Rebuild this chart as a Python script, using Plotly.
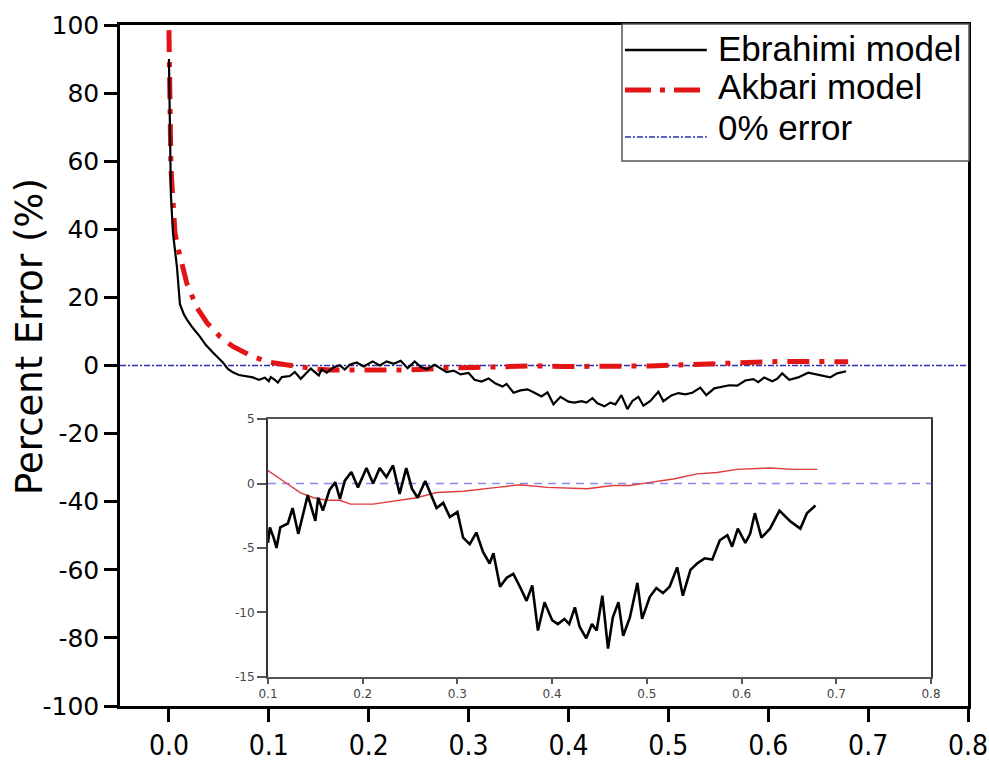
import plotly.graph_objects as go

# ---- data -------------------------------------------------------------
# Ebrahimi model: percent error vs. x
ebrahimi_x = [0.000, 0.001, 0.002, 0.004, 0.008, 0.011, 0.015, 0.018, 0.024, 0.031,
              0.037, 0.044, 0.050, 0.054, 0.059, 0.064, 0.070, 0.077, 0.084, 0.090,
              0.096, 0.100, 0.102, 0.106, 0.109, 0.113, 0.121, 0.126, 0.132, 0.142,
              0.150, 0.153, 0.158, 0.165, 0.171, 0.176, 0.181, 0.188, 0.195, 0.204,
              0.211, 0.218, 0.225, 0.232, 0.239, 0.246, 0.252, 0.258, 0.266, 0.271,
              0.278, 0.285, 0.292, 0.300, 0.306, 0.313, 0.320, 0.327, 0.334, 0.338,
              0.345, 0.352, 0.359, 0.366, 0.373, 0.379, 0.385, 0.392, 0.400, 0.406,
              0.413, 0.418, 0.424, 0.429, 0.436, 0.442, 0.447, 0.453, 0.459, 0.464,
              0.470, 0.475, 0.482, 0.490, 0.495, 0.503, 0.510, 0.517, 0.524, 0.532,
              0.538, 0.546, 0.553, 0.561, 0.569, 0.577, 0.585, 0.590, 0.596, 0.604,
              0.609, 0.614, 0.621, 0.630, 0.640, 0.651, 0.662, 0.669, 0.678]
ebrahimi_y = [90.0, 70.0, 50.0, 39.0, 29.0, 18.0, 15.0, 13.5, 11.0, 8.5,
              6.0, 3.8, 2.0, 0.9, -1.0, -2.0, -2.8, -3.2, -3.5, -4.2,
              -3.6, -4.6, -3.4, -4.2, -5.0, -3.4, -3.1, -1.9, -3.9, -0.9,
              -2.9, -1.1, -2.1, -0.5, 0.1, -1.2, 0.2, 0.9, -0.3, 1.2,
              0.0, 1.2, 0.5, 1.4, -0.8, 1.2, -0.4, -1.1, 0.2, -0.7,
              -1.9, -1.5, -2.6, -2.2, -4.2, -4.7, -3.8, -5.3, -6.2, -5.4,
              -8.0, -7.3, -7.0, -8.0, -9.1, -7.9, -11.4, -9.2, -10.6, -10.9,
              -10.5, -10.9, -9.6, -11.1, -12.0, -10.9, -11.4, -8.7, -12.8, -10.4,
              -9.2, -11.8, -10.4, -7.7, -10.5, -8.8, -8.1, -8.5, -8.0, -6.5,
              -8.7, -6.7, -6.2, -5.8, -5.9, -4.4, -4.0, -4.9, -3.5, -4.6,
              -3.9, -2.3, -4.2, -3.5, -2.1, -2.9, -3.5, -2.3, -1.7]

# Akbari model: percent error vs. x
akbari_x = [0.000, 0.001, 0.002, 0.006, 0.009, 0.018, 0.028, 0.038, 0.051, 0.064,
            0.084, 0.100, 0.120, 0.134, 0.148, 0.162, 0.176, 0.187, 0.211, 0.236,
            0.257, 0.278, 0.306, 0.342, 0.366, 0.395, 0.437, 0.464, 0.482, 0.500,
            0.528, 0.553, 0.574, 0.595, 0.609, 0.630, 0.655, 0.680]
akbari_y = [98.5, 80.0, 58.0, 39.0, 34.6, 24.0, 17.0, 12.6, 8.5, 5.6,
            2.6, 1.0, 0.0, -0.7, -1.1, -1.3, -1.3, -1.6, -1.6, -1.3,
            -1.1, -0.7, -0.6, -0.3, -0.1, -0.3, -0.4, -0.15, -0.15, 0.05,
            0.35, 0.75, 0.85, 1.1, 1.15, 1.2, 1.1, 1.1]

# reference line at zero error
zero_x = [-0.049, 0.8]
zero_y = [0, 0]

# axis ticks
main_xticks = [0.0, 0.1, 0.2, 0.3, 0.4, 0.5, 0.6, 0.7, 0.8]
main_yticks = [100, 80, 60, 40, 20, 0, -20, -40, -60, -80, -100]
inset_xticks = [0.1, 0.2, 0.3, 0.4, 0.5, 0.6, 0.7, 0.8]
inset_yticks = [5, 0, -5, -10, -15]

legend_names = ["Ebrahimi model", "Akbari model", "0% error"]
y_title = "Percent Error (%)"

# ---- styles -----------------------------------------------------------
RED = "#e31414"
BLUE = "#2e2eb0"
BLACK = "#000000"
RED_DASH = "22px,10px,5px,10px"
BLUE_DASH = "6px,2px,2px,2px"

fig = go.Figure()

# main panel
fig.add_trace(go.Scatter(x=zero_x, y=zero_y, mode="lines",
                         line=dict(color=BLUE, width=1.6, dash=BLUE_DASH),
                         name=legend_names[2], xaxis="x", yaxis="y"))
fig.add_trace(go.Scatter(x=akbari_x, y=akbari_y, mode="lines",
                         line=dict(color=RED, width=5, dash=RED_DASH),
                         name=legend_names[1], xaxis="x", yaxis="y"))
fig.add_trace(go.Scatter(x=ebrahimi_x, y=ebrahimi_y, mode="lines",
                         line=dict(color=BLACK, width=2.2),
                         name=legend_names[0], xaxis="x", yaxis="y"))

# inset panel (zoomed view)
fig.add_trace(go.Scatter(x=[inset_xticks[0], inset_xticks[-1]], y=zero_y, mode="lines",
                         line=dict(color="#8a8af0", width=1.3, dash="8px,6px"),
                         xaxis="x2", yaxis="y2"))
fig.add_trace(go.Scatter(x=akbari_x, y=akbari_y, mode="lines",
                         line=dict(color="#e03a3a", width=1.4),
                         xaxis="x2", yaxis="y2"))
fig.add_trace(go.Scatter(x=ebrahimi_x, y=ebrahimi_y, mode="lines",
                         line=dict(color=BLACK, width=2.6),
                         xaxis="x2", yaxis="y2"))

main_xtick_font = dict(family="DejaVu Sans Condensed", size=28, color="black")
main_ytick_font = dict(family="DejaVu Sans", size=25, color="black")
inset_tick_font = dict(family="DejaVu Sans", size=12, color="#444444")

fig.update_layout(
    width=989, height=761,
    margin=dict(l=120, r=21, t=25, b=55),
    paper_bgcolor="white", plot_bgcolor="white",
    showlegend=False,
    xaxis=dict(domain=[0, 1], range=[-0.049, 0.8], tickvals=main_xticks,
               ticktext=[f"{v:.1f}" for v in main_xticks], automargin=False,
               ticklabeloverflow="allow",
               showgrid=False, zeroline=False, showline=True, mirror=True,
               linecolor="black", linewidth=2.5, ticks="outside", ticklen=13,
               tickwidth=2.5, tickcolor="black", tickfont=main_xtick_font),
    yaxis=dict(domain=[0, 1], range=[-100, 100], tickvals=main_yticks,
               ticktext=[str(v) for v in main_yticks], automargin=False,
               ticklabeloverflow="allow",
               showgrid=False, zeroline=False, showline=True, mirror=True,
               linecolor="black", linewidth=2.5, ticks="outside", ticklen=13,
               tickwidth=2.5, tickcolor="black", tickfont=main_ytick_font),
    xaxis2=dict(domain=[0.1745, 0.9564], range=[0.1, 0.8], tickvals=inset_xticks,
                ticktext=[f"{v:.1f}" for v in inset_xticks], anchor="y2",
                automargin=False,
                showgrid=False, zeroline=False, showline=True, mirror=True,
                linecolor="#555555", linewidth=2, ticks="outside", ticklen=5,
                tickwidth=1.5, tickcolor="#555555", tickfont=inset_tick_font),
    yaxis2=dict(domain=[0.0426, 0.4214], range=[-15, 5], tickvals=inset_yticks,
                ticktext=[str(v) for v in inset_yticks], anchor="x2",
                automargin=False,
                showgrid=False, zeroline=False, showline=True, mirror=True,
                linecolor="#333333", linewidth=2, ticks="outside", ticklen=9,
                tickwidth=1.5, tickcolor="#555555", tickfont=inset_tick_font),
)

# rotated y-axis title
fig.add_annotation(xref="paper", yref="paper", x=-0.106, y=0.542, text=y_title,
                   textangle=-90, showarrow=False, xanchor="center", yanchor="middle",
                   font=dict(family="DejaVu Sans", size=37, color="black"))

# ---- legend box drawn in paper coordinates -------------------------------
leg_x0, leg_x1 = 0.592, 1.0012
leg_y0, leg_y1 = 0.8003, 1.0015
row_y = [0.9633, 0.9046, 0.8355]
text_y = [0.966, 0.910, 0.850]
sample_x0, sample_x1 = 0.5955, 0.692
sample_styles = [dict(color=BLACK, width=2.5),
                 dict(color=RED, width=5, dash="26px,9px,5px,9px"),
                 dict(color=BLUE, width=1.6, dash=BLUE_DASH)]

fig.add_shape(type="rect", xref="paper", yref="paper",
              x0=leg_x0, x1=leg_x1, y0=leg_y0, y1=leg_y1,
              fillcolor="white", line=dict(color="#555555", width=1.5), layer="above")
for name, ly, ty, style in zip(legend_names, row_y, text_y, sample_styles):
    fig.add_shape(type="line", xref="paper", yref="paper",
                  x0=sample_x0, x1=sample_x1, y0=ly, y1=ly, line=style, layer="above")
    fig.add_annotation(xref="paper", yref="paper", x=0.703, y=ty, text=name,
                       showarrow=False, xanchor="left", yanchor="middle",
                       font=dict(family="Liberation Sans, Arial", size=35, color="black"))

fig.write_html("out.html")
